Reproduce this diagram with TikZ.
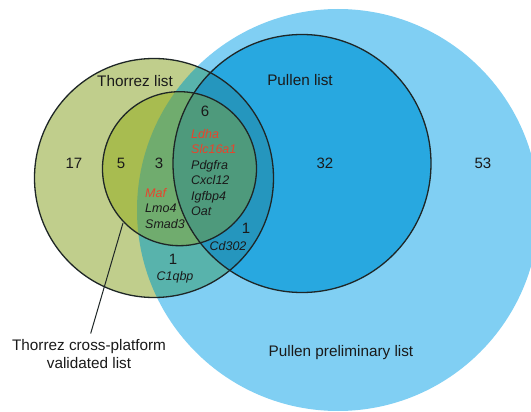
\documentclass[tikz,border=0pt]{standalone}
\usepackage{fontspec}
\setmainfont{Liberation Sans}
\definecolor{prelimC}{HTML}{80CFF3}
\definecolor{pullC}{HTML}{28A8E0}
\definecolor{thoC}{HTML}{C0CE8C}
\definecolor{thoPre}{HTML}{58B3AC}
\definecolor{thoPul}{HTML}{2596BE}
\definecolor{cpC}{HTML}{A8BC50}
\definecolor{cpPre}{HTML}{70AC6E}
\definecolor{cpPul}{HTML}{4E9A7C}
\definecolor{outl}{HTML}{1E2626}
\definecolor{txt}{HTML}{1A1A1A}
\definecolor{genred}{HTML}{E8442C}
\tikzset{
  lbl/.style={font=\fontsize{15.3}{18}\selectfont, text=txt, inner sep=0pt, align=center},
  num/.style={font=\fontsize{15}{18}\selectfont, text=txt, inner sep=0pt},
  gene/.style={font=\fontsize{12.5}{15.5}\selectfont\itshape, text=txt, inner sep=0pt, align=left},
  ring/.style={draw=outl, line width=1.3pt},
  leader/.style={draw=outl, line width=1pt, shorten >=6pt}
}
\newcommand{\prelimPath}{(338,210) circle [radius=201]}
\newcommand{\pullPath}{(302,163.5) circle [radius=129]}
\newcommand{\thoPath}{(154,178) circle [radius=119.5]}
\newcommand{\cpPath}{(179.5,168.7) circle [radius=77]}
\begin{document}
\begin{tikzpicture}[x=1pt,y=-1pt]
\useasboundingbox (0,0) rectangle (531,412);
\begin{scope}
\clip (0,0) rectangle (531,412);
\fill[white] (0,0) rectangle (531,412);
\fill[prelimC] \prelimPath;
\fill[pullC] \pullPath;
\fill[thoC] \thoPath;
\begin{scope}
  \clip \thoPath;
  \fill[thoPre] \prelimPath;
  \fill[thoPul] \pullPath;
\end{scope}
\fill[cpC] \cpPath;
\begin{scope}
  \clip \cpPath;
  \fill[cpPre] \prelimPath;
  \fill[cpPul] \pullPath;
\end{scope}
\draw[ring] \pullPath;
\draw[ring] \thoPath;
\draw[ring] \cpPath;
\end{scope}

% labels
\node[lbl] (tholbl) at (135,81) {Thorrez list};
\node[lbl] (pullbl) at (300,80) {Pullen list};
\node[lbl] (prelbl) at (341,353) {Pullen preliminary list};
\node[lbl] (cplbl) at (89,354) {Thorrez cross-platform\\validated list};

% numbers
\node[num] (n17) at (74,163) {17};
\node[num] (n5) at (121,163) {5};
\node[num] (n3) at (159,163) {3};
\node[num] (n6) at (205,111) {6};
\node[num] (n32) at (325,163) {32};
\node[num] (n53) at (483,163) {53};
\node[num] (n1a) at (246,228) {1};
\node[num] (n1b) at (173,259) {1};

% genes
\node[gene, anchor=west] (gcp) at (191,172.5) {\textcolor{genred}{Ldha}\\\textcolor{genred}{Slc16a1}\\Pdgfra\\Cxcl12\\Igfbp4\\Oat};
\node[gene, anchor=west] (gmaf) at (145,208.5) {\textcolor{genred}{Maf}\\Lmo4\\Smad3};
\node[gene] (gcd) at (228,246) {Cd302};
\node[gene] (gc1) at (175,277) {C1qbp};

% leader
\coordinate (lstart) at (123,223);
\draw[leader] (lstart) -- (cplbl.north);
\end{tikzpicture}
\end{document}
